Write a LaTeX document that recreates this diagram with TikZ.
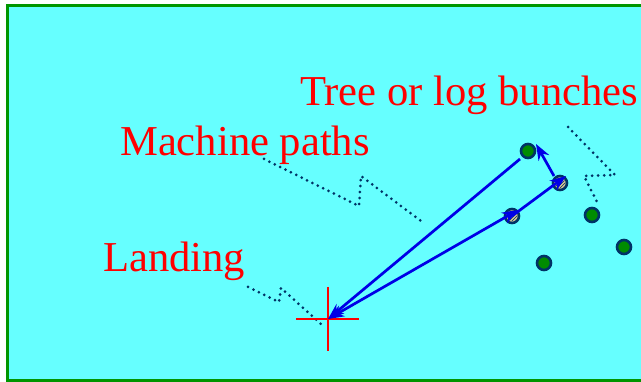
\documentclass[tikz,border=0pt]{standalone}
\usepackage{fontspec}
\setmainfont{Liberation Serif}
\usetikzlibrary{arrows.meta,patterns}
\definecolor{bgcyan}{RGB}{102,255,255}
\definecolor{framegreen}{RGB}{0,150,0}
\definecolor{leader}{RGB}{0,51,102}
\definecolor{treegreen}{RGB}{0,140,0}
\definecolor{tanfill}{RGB}{220,200,150}
\definecolor{pathblue}{RGB}{0,0,230}
\tikzset{
  lbl/.style={text=red, font=\fontsize{42.6}{50}\selectfont, inner sep=0pt, anchor=base west},
  leaderline/.style={draw=leader, line width=3pt, line cap=round, dash pattern=on 0pt off 6pt},
  tree/.style={circle, draw=leader, line width=2.6pt, fill=treegreen, minimum size=14pt, inner sep=0pt},
  visited/.style={circle, draw=leader, line width=2.6pt, fill=tanfill, minimum size=14pt, inner sep=0pt},
  mpath/.style={draw=pathblue, line width=2.7pt, -{Stealth[length=16pt,width=12pt]}},
  mpathboth/.style={draw=pathblue, line width=2.7pt, {Stealth[length=16pt,width=12pt]}-{Stealth[length=16pt,width=12pt]}},
  crossline/.style={draw=red, line width=2.8pt}
}
\begin{document}
\begin{tikzpicture}[x=1pt,y=-1pt]
\useasboundingbox (0,0) rectangle (641,382);
\clip (0,0) rectangle (641,382);
\draw[framegreen, line width=2.8pt, fill=bgcyan] (7.8,5.8) rectangle (660,380.5);
% labels
\node[lbl] (ltree) at (300,106) {Tree or log bunches};
\node[lbl] (lmach) at (120,156) {Machine paths};
\node[lbl] (lland) at (103,272) {Landing};
% leaders
\coordinate (mA) at (264,159);
\coordinate (mB) at (359,206);
\coordinate (mC) at (361,176);
\coordinate (mD) at (421,221);
\draw[leaderline] (mA) -- (mB) -- (mC) -- (mD);
\coordinate (lA) at (248,287);
\coordinate (lB) at (279,302);
\coordinate (lC) at (281,288);
\coordinate (lD) at (321,324);
\draw[leaderline] (lA) -- (lB) -- (lC) -- (lD);
\coordinate (tA) at (568,127);
\coordinate (tB) at (615,175);
\coordinate (tC) at (584,176);
\coordinate (tD) at (599,206);
\draw[leaderline] (tA) -- (tB) -- (tC) -- (tD);
% landing cross
\coordinate (land) at (328,319);
\coordinate (cxl) at (296,319);
\coordinate (cxr) at (359,319);
\coordinate (cyt) at (328,287);
\coordinate (cyb) at (328,351);
\draw[crossline] (cxl) -- (cxr);
\draw[crossline] (cyt) -- (cyb);
% trees
\node[tree] (g1) at (528,151) {};
\node[tree] (g2) at (592,215) {};
\node[tree] (g3) at (624,247) {};
\node[tree] (g4) at (544,263) {};
\node[visited] (v1) at (512,216) {};
\node[visited] (v2) at (560,183) {};
\fill[pattern=north east lines, pattern color=leader] (v1.center) circle (5.5pt);
\fill[pattern=north east lines, pattern color=leader] (v2.center) circle (5.5pt);
% machine paths
\coordinate (v1tip) at (518,210);
\coordinate (v2tip) at (566,176);
\coordinate (g1tip) at (536,144);
\coordinate (g1start) at (520,159);
\coordinate (v2start) at (554,176);
\draw[mpathboth] (land) -- (v1tip);
\draw[mpath] (v1.center) -- (v2tip);
\draw[mpath] (v2start) -- (g1tip);
\draw[mpath] (g1start) -- (land);
\end{tikzpicture}
\end{document}
